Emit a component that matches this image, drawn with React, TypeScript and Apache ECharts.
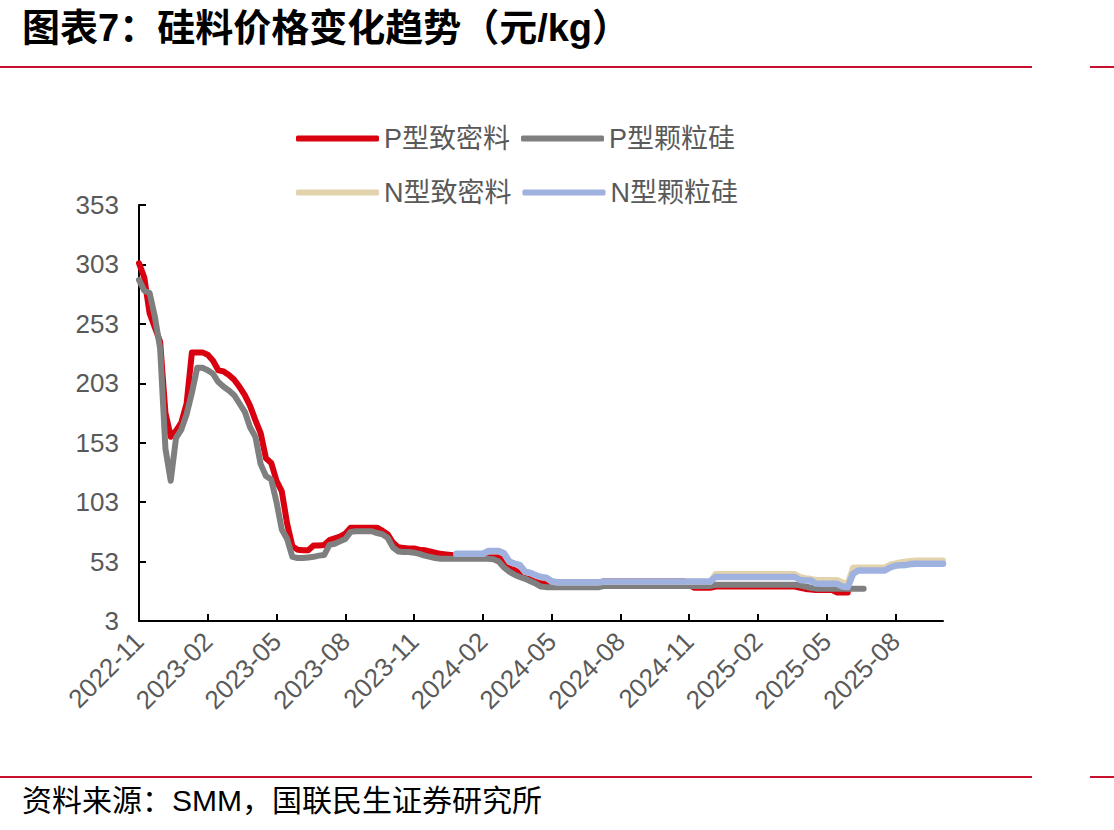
import React, { useEffect, useRef } from "react";
import * as echarts from "echarts";

const dates = [
  "2022-11-09","2022-11-16","2022-11-23","2022-11-30","2022-12-07","2022-12-14","2022-12-21","2022-12-28",
  "2023-01-04","2023-01-11","2023-01-18","2023-01-25","2023-02-01","2023-02-08","2023-02-15","2023-02-22",
  "2023-03-01","2023-03-08","2023-03-15","2023-03-22","2023-03-29","2023-04-05","2023-04-12","2023-04-19",
  "2023-04-26","2023-05-03","2023-05-10","2023-05-17","2023-05-24","2023-05-31","2023-06-07","2023-06-14",
  "2023-06-21","2023-06-28","2023-07-05","2023-07-12","2023-07-19","2023-07-26","2023-08-02","2023-08-09",
  "2023-08-16","2023-08-23","2023-08-30","2023-09-06","2023-09-13","2023-09-20","2023-09-27","2023-10-04",
  "2023-10-11","2023-10-18","2023-10-25","2023-11-01","2023-11-08","2023-11-15","2023-11-22","2023-11-29",
  "2023-12-06","2023-12-13","2023-12-20","2023-12-27","2024-01-03","2024-01-10","2024-01-17","2024-01-24",
  "2024-01-31","2024-02-07","2024-02-14","2024-02-21","2024-02-28","2024-03-06","2024-03-13","2024-03-20",
  "2024-03-27","2024-04-03","2024-04-10","2024-04-17","2024-04-24","2024-05-01","2024-05-08","2024-05-15",
  "2024-05-22","2024-05-29","2024-06-05","2024-06-12","2024-06-19","2024-06-26","2024-07-03","2024-07-10",
  "2024-07-17","2024-07-24","2024-07-31","2024-08-07","2024-08-14","2024-08-21","2024-08-28","2024-09-04",
  "2024-09-11","2024-09-18","2024-09-25","2024-10-02","2024-10-09","2024-10-16","2024-10-23","2024-10-30",
  "2024-11-06","2024-11-13","2024-11-20","2024-11-27","2024-12-04","2024-12-11","2024-12-18","2024-12-25",
  "2025-01-01","2025-01-08","2025-01-15","2025-01-22","2025-01-29","2025-02-05","2025-02-12","2025-02-19",
  "2025-02-26","2025-03-05","2025-03-12","2025-03-19","2025-03-26","2025-04-02","2025-04-09","2025-04-16",
  "2025-04-23","2025-04-30","2025-05-07","2025-05-14","2025-05-21","2025-05-28","2025-06-04","2025-06-11",
  "2025-06-18","2025-06-25","2025-07-02","2025-07-09","2025-07-16","2025-07-23","2025-07-30","2025-08-06",
  "2025-08-13","2025-08-20","2025-08-27","2025-09-03","2025-09-10","2025-09-17","2025-09-24","2025-10-01",
  "2025-10-08"
];

// P型致密料 (index 0..134)
const pDense = [
  304, 292, 262, 250, 238, 178, 158, 163, 170, 186,
  229, 229, 229, 227, 222, 214, 213, 210, 206, 200,
  193, 184, 172, 161, 140, 136, 121, 112, 85, 66,
  63, 62.5, 62.5, 66.5, 66.5, 67, 71, 72.5, 74, 76.5,
  81.5, 81.5, 81.5, 81.5, 81.5, 81.5, 79, 76, 69, 65,
  64.5, 64, 64, 63, 62.5, 61.5, 60.5, 59.5, 59, 58.5,
  58, 58, 58, 58, 58, 58, 58, 57.5, 57, 53,
  49, 46, 43, 41.5, 40, 38, 36.5, 35.5, 35, 35,
  35, 35, 35, 35, 35, 35, 35, 35, 36.5, 36.5,
  36.5, 36.5, 36.5, 36.5, 36.5, 36.5, 36.5, 36.5, 36.5, 36.5,
  36.5, 36.5, 36.5, 36.5, 33, 31, 31, 31, 31, 32,
  32, 32, 32, 32, 32, 32, 32, 32, 32, 32,
  32, 32, 32, 32, 32, 31, 30, 29.5, 29, 29,
  29, 29, 27, 27, 27
];

// P型颗粒硅 (index 0..137)
const pGranular = [
  290, 281, 279, 259, 232, 148, 121, 157, 164, 177,
  195, 216, 216, 214, 211, 204, 200, 197, 193, 186,
  179, 166, 158, 135, 125, 122, 103, 80, 72, 57,
  56, 56, 56.5, 57, 58, 58.5, 67, 68, 70, 72,
  78, 78.5, 78.5, 78.5, 78.5, 77, 76, 73, 65, 61.5,
  61, 61, 60.5, 59.5, 58, 57, 56, 55.4, 55.4, 55.4,
  55.4, 55.4, 55.4, 55.4, 55.4, 55.4, 55.4, 55, 53, 48,
  44.5, 42, 40, 38.5, 36.5, 34.5, 32, 31.5, 31.5, 31.5,
  31.5, 31.5, 31.5, 31.5, 31.5, 31.5, 31.5, 31.5, 32.5, 32.5,
  32.5, 32.5, 32.5, 32.5, 32.5, 32.5, 32.5, 32.5, 32.5, 32.5,
  32.5, 32.5, 32.5, 32.5, 32.5, 32.5, 32.5, 32.5, 32.5, 33.5,
  33.5, 33.5, 33.5, 33.5, 33.5, 33.5, 33.5, 33.5, 33.5, 33.5,
  33.5, 33.5, 33.5, 33.5, 33.5, 33, 32, 31, 30.2, 30.2,
  30.2, 30.2, 30.2, 30.2, 30.2, 30.2, 30.2, 30.2
];

// N型致密料 (index 60..152)
const nDense = [
  59.3, 59.3, 59.3, 59.3, 59.3, 59.3, 61.5, 61.5, 61.5, 59.7,
  52.7, 51, 49.7, 44.2, 43.2, 41.2, 39.7, 39.2, 36.2, 35.4,
  35.4, 35.4, 35.4, 35.4, 35.4, 35.4, 35.4, 35.4, 36, 36,
  36, 36, 36, 36, 36, 36, 36, 36, 36, 36,
  36, 36, 36, 36, 36, 36, 36, 36, 36, 42.5,
  42.5, 42.5, 42.5, 42.5, 42.5, 42.5, 42.5, 42.5, 42.5, 42.5,
  42.5, 42.5, 42.5, 42.5, 42.5, 40, 39, 38.5, 37.5, 37.5,
  37.5, 37.5, 37.5, 35.5, 34.5, 48, 48, 48, 48, 48,
  48, 48, 50.5, 51.5, 52.5, 53, 53.5, 54, 54, 54,
  54, 54, 54
];

// N型颗粒硅 (index 60..152)
const nGranular = [
  59.6, 59.6, 59.6, 59.6, 59.6, 59.6, 61.8, 61.8, 61.8, 60,
  53, 51.2, 50, 44.5, 43.5, 41.5, 40, 39.5, 36.5, 35.7,
  35.7, 35.7, 35.7, 35.7, 35.7, 35.7, 35.7, 35.7, 36.3, 36.3,
  36.3, 36.3, 36.3, 36.3, 36.3, 36.3, 36.3, 36.3, 36.3, 36.3,
  36.3, 36.3, 36.3, 36.3, 36.3, 36.3, 36.3, 36.3, 36.3, 40,
  40, 40, 40, 40, 40, 40, 40, 40, 40, 40,
  40, 40, 40, 40, 40, 37.5, 37, 37, 34.5, 34.3,
  34.3, 34.3, 34.3, 32, 31.5, 42.8, 45.5, 45.5, 45.5, 45.5,
  45.5, 45.5, 48, 49.5, 50, 50.2, 51, 51.2, 51.2, 51.2,
  51.2, 51.2, 51.2
];

const N_START = 60;

const FONT = "'Liberation Sans', Arial, 'Noto Sans CJK SC', sans-serif";

function pad(arr: number[], start: number): (number | null)[] {
  const out: (number | null)[] = [];
  for (let i = 0; i < dates.length; i++) {
    const j = i - start;
    out.push(j >= 0 && j < arr.length ? arr[j] : null);
  }
  return out;
}

export default function App() {
  const ref = useRef<HTMLDivElement>(null);
  useEffect(() => {
    const chart = echarts.init(ref.current!, null, { renderer: "svg" });
    const mk = (name: string, data: (number | null)[], color: string, width: number, z: number) => ({
      name,
      type: "line",
      data,
      symbol: "none",
      showSymbol: false,
      z,
      color,
      itemStyle: { color },
      lineStyle: { color, width, cap: "round", join: "round" },
      connectNulls: false,
    });
    const legendCommon = {
      left: 296,
      padding: 0,
      icon: "roundRect",
      itemWidth: 83,
      itemHeight: 6,
      itemGap: 11,
      textStyle: { fontSize: 27, color: "#595959", width: 130, fontFamily: FONT },
    };
    chart.setOption({
      animation: false,
      backgroundColor: "#ffffff",
      grid: { left: 139, right: 171, top: 205, bottom: 209, containLabel: false },
      legend: [
        { ...legendCommon, top: 125, data: ["P型致密料", "P型颗粒硅"] },
        { ...legendCommon, top: 179, data: ["N型致密料", "N型颗粒硅"] },
      ],
      xAxis: {
        type: "category",
        data: dates,
        boundaryGap: false,
        axisLine: { lineStyle: { color: "#000", width: 2 } },
        axisTick: { inside: true, length: 7, interval: 12, lineStyle: { color: "#000", width: 2 } },
        axisLabel: {
          interval: 12,
          rotate: 45,
          margin: 16,
          fontSize: 26,
          color: "#595959",
          fontFamily: FONT,
          formatter: (v: string) => v.slice(0, 7),
        },
        splitLine: { show: false },
      },
      yAxis: {
        type: "value",
        min: 3,
        max: 353,
        interval: 50,
        axisLine: { show: true, lineStyle: { color: "#000", width: 2 } },
        axisTick: { show: true, inside: true, length: 7, lineStyle: { color: "#000", width: 2 } },
        axisLabel: { fontSize: 26, color: "#595959", margin: 20, fontFamily: FONT },
        splitLine: { show: false },
      },
      series: [
        mk("P型致密料", pad(pDense, 0), "#d9000f", 6, 2),
        mk("P型颗粒硅", pad(pGranular, 0), "#7f7f7f", 6, 3),
        mk("N型致密料", pad(nDense, N_START), "#e3d3ad", 6, 4),
        mk("N型颗粒硅", pad(nGranular, N_START), "#9fb1de", 6.5, 5),
      ],
      graphic: [
        {
          type: "text",
          left: 22,
          top: 9,
          style: {
            text: "图表7：硅料价格变化趋势（元/kg）",
            fontSize: 38,
            fontWeight: "bold",
            fill: "#000",
            fontFamily: FONT,
          },
        },
        { type: "line", shape: { x1: 0, y1: 67, x2: 1032, y2: 67 }, style: { stroke: "#c8102e", lineWidth: 2 } },
        { type: "line", shape: { x1: 1090, y1: 67, x2: 1114, y2: 67 }, style: { stroke: "#c8102e", lineWidth: 2 } },
        { type: "line", shape: { x1: 0, y1: 777, x2: 1032, y2: 777 }, style: { stroke: "#c8102e", lineWidth: 2 } },
        { type: "line", shape: { x1: 1090, y1: 777, x2: 1114, y2: 777 }, style: { stroke: "#c8102e", lineWidth: 2 } },
        {
          type: "text",
          left: 22,
          top: 785,
          style: {
            text: "资料来源：SMM，国联民生证券研究所",
            fontSize: 30,
            fill: "#000",
            fontFamily: FONT,
          },
        },
      ],
    });
    return () => chart.dispose();
  }, []);
  return (
    <div
      ref={ref}
      style={{ position: "fixed", left: 0, top: 0, width: 1114, height: 830, background: "#fff" }}
    />
  );
}
